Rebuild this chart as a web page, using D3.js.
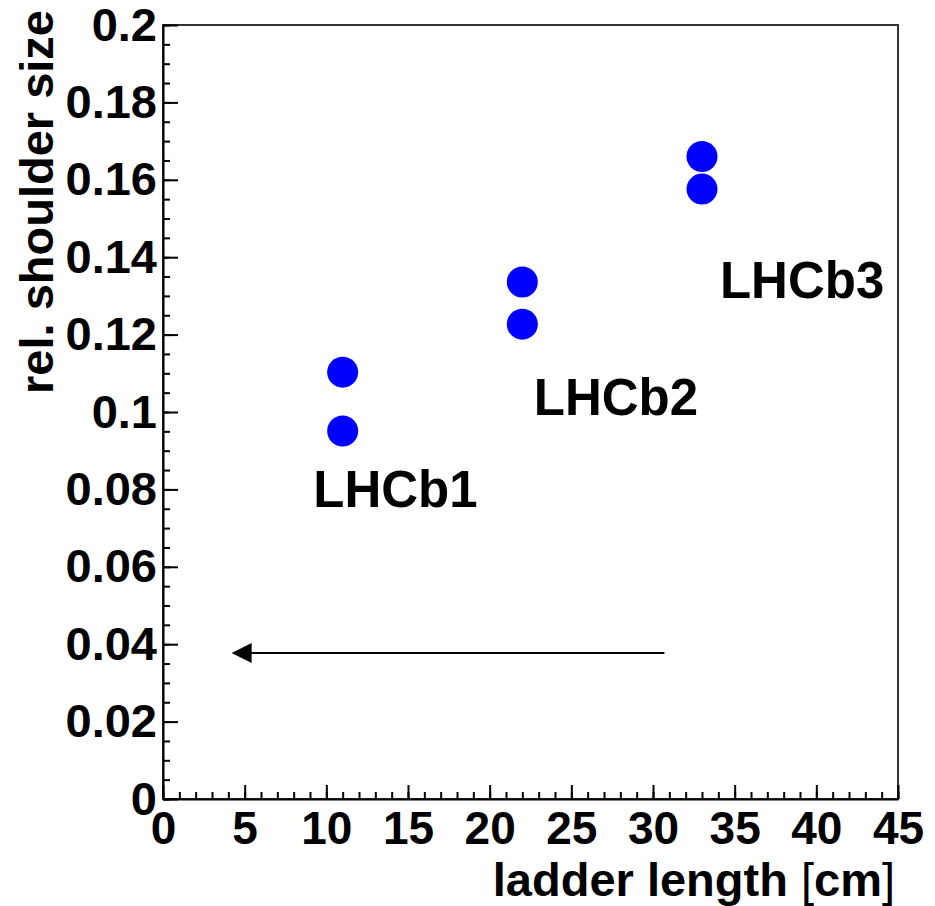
<!DOCTYPE html>
<html>
<head>
<meta charset="utf-8">
<script src="https://cdn.jsdelivr.net/npm/d3@7"></script>
<style>
  body { margin: 0; background: #fff; }
  text { font-family: "Liberation Sans", Arial, sans-serif; font-weight: bold; }
</style>
</head>
<body>
<div id="chart"></div>
<script>
// ladder length [cm] and relative shoulder size, two measurements per ladder type
var ladderLength = [11, 11, 22, 22, 33, 33];
var shoulderSize = [0.1103, 0.0951, 0.1336, 0.1227, 0.1660, 0.1576];

var labelNames = ["LHCb1", "LHCb2", "LHCb3"];
var labelX = [9.2, 22.7, 34.1];
var labelY = [0.0755, 0.0992, 0.1295];

var xTicks = [0, 5, 10, 15, 20, 25, 30, 35, 40, 45];
var yTicks = [0, 0.02, 0.04, 0.06, 0.08, 0.1, 0.12, 0.14, 0.16, 0.18, 0.2];
var yTickLabels = ["0", "0.02", "0.04", "0.06", "0.08", "0.1", "0.12", "0.14", "0.16", "0.18", "0.2"];

// arrow from (30.7, 0.0377) to (4.2, 0.0377)
var arrowFrom = [30.7, 0.0377];
var arrowTo = [4.2, 0.0377];

var width = 935, height = 906;
var margin = {top: 25, right: 37, bottom: 107, left: 163};

var x = d3.scaleLinear()
    .domain([0, 45])
    .range([margin.left, width - margin.right]);

var y = d3.scaleLinear()
    .domain([0, 0.2])
    .range([height - margin.bottom, margin.top]);

var svg = d3.select("#chart").append("svg")
    .attr("width", width)
    .attr("height", height);

// frame
svg.append("rect")
    .attr("x", x(0))
    .attr("y", y(0.2))
    .attr("width", x(45) - x(0))
    .attr("height", y(0) - y(0.2))
    .attr("fill", "none")
    .attr("stroke", "#333")
    .attr("stroke-width", 2);

// minor ticks
svg.append("g")
    .attr("transform", "translate(0," + y(0) + ")")
    .call(d3.axisBottom(x).tickValues(d3.range(0, 46, 1)).tickSize(-7).tickSizeOuter(0).tickFormat(""))
    .call(g => g.select(".domain").remove())
    .selectAll("line").attr("stroke-width", 2);

svg.append("g")
    .attr("transform", "translate(" + x(0) + ",0)")
    .call(d3.axisLeft(y).tickValues(d3.range(0, 41).map(i => i * 0.005)).tickSize(-7).tickSizeOuter(0).tickFormat(""))
    .call(g => g.select(".domain").remove())
    .selectAll("line").attr("stroke-width", 2);

// major ticks with labels
var xAxis = svg.append("g")
    .attr("transform", "translate(0," + y(0) + ")")
    .call(d3.axisBottom(x).tickValues(xTicks).tickSize(-14).tickSizeOuter(0).tickPadding(12));
xAxis.select(".domain").attr("stroke", "#000").attr("stroke-width", 2);
xAxis.selectAll("line").attr("stroke-width", 2);
xAxis.selectAll("text")
    .attr("font-size", 46)
    .attr("font-family", "Liberation Sans, Arial, sans-serif")
    .attr("font-weight", "bold");

var yAxis = svg.append("g")
    .attr("transform", "translate(" + x(0) + ",0)")
    .call(d3.axisLeft(y).tickValues(yTicks).tickSize(-15).tickSizeOuter(0).tickPadding(6)
        .tickFormat((d, i) => yTickLabels[i]));
yAxis.select(".domain").attr("stroke", "#000").attr("stroke-width", 2);
yAxis.selectAll("line").attr("stroke-width", 2);
yAxis.selectAll("text")
    .attr("font-size", 47)
    .attr("font-family", "Liberation Sans, Arial, sans-serif")
    .attr("font-weight", "bold");

// axis titles
var xTitle = svg.append("text")
    .attr("x", x(45) - 3)
    .attr("y", 896)
    .attr("text-anchor", "end")
    .attr("font-size", 47);
xTitle.append("tspan").text("ladder length ");
xTitle.append("tspan").attr("font-weight", "normal").text("[");
xTitle.append("tspan").text("cm");
xTitle.append("tspan").attr("font-weight", "normal").text("]");

svg.append("text")
    .attr("transform", "translate(53,10) rotate(-90)")
    .attr("text-anchor", "end")
    .attr("font-size", 47)
    .text("rel. shoulder size");

// points
svg.selectAll(".pt")
    .data(ladderLength)
    .enter().append("circle")
    .attr("class", "pt")
    .attr("cx", d => x(d))
    .attr("cy", (d, i) => y(shoulderSize[i]))
    .attr("r", 15.5)
    .attr("fill", "#0000ff");

// ladder labels
svg.selectAll(".lbl")
    .data(labelNames)
    .enter().append("text")
    .attr("class", "lbl")
    .attr("x", (d, i) => x(labelX[i]))
    .attr("y", (d, i) => y(labelY[i]))
    .attr("font-size", 51)
    .text(d => d);

// arrow
var ay = y(arrowFrom[1]);
svg.append("line")
    .attr("x1", x(arrowFrom[0]))
    .attr("y1", ay)
    .attr("x2", x(arrowTo[0]) + 18)
    .attr("y2", ay)
    .attr("stroke", "#000")
    .attr("stroke-width", 2);
var tip = x(arrowTo[0]);
svg.append("path")
    .attr("d", "M" + tip + "," + ay + "L" + (tip + 20) + "," + (ay - 10) + "L" + (tip + 20) + "," + (ay + 10) + "Z")
    .attr("fill", "#000");
</script>
</body>
</html>
